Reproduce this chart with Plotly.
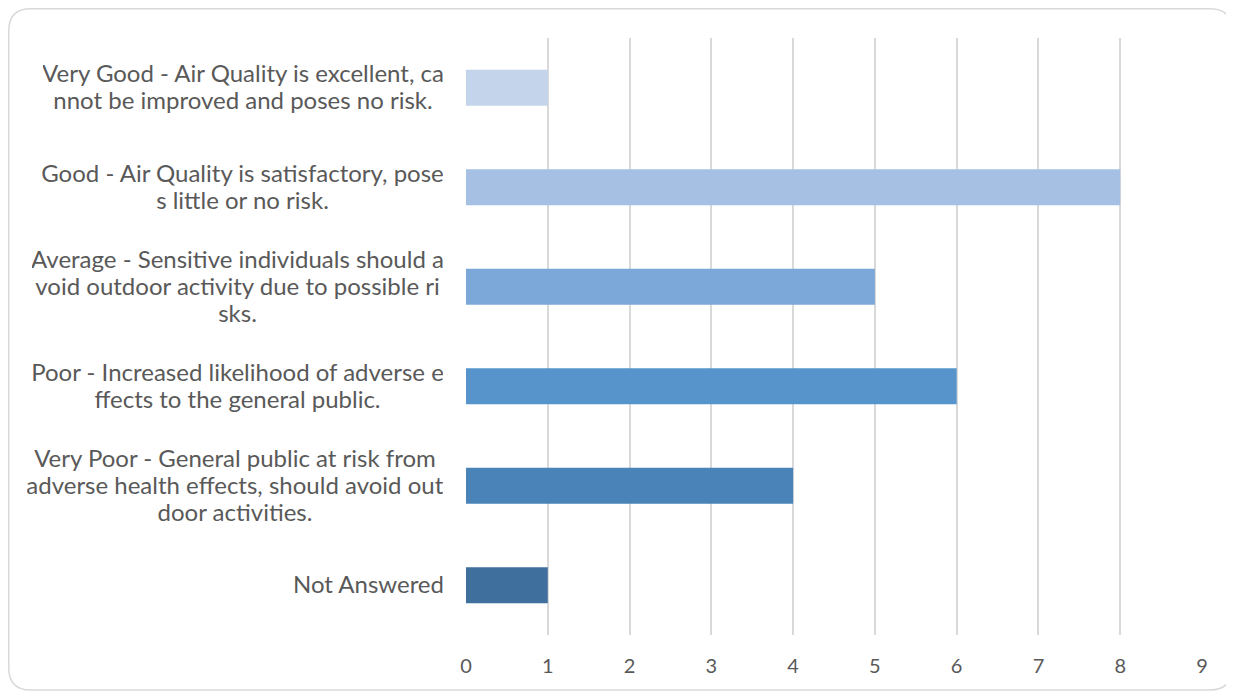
import plotly.graph_objects as go

categories = [
    "Very Good - Air Quality is excellent, ca<br>nnot be improved and poses no risk.",
    "Good - Air Quality is satisfactory, pose<br>s little or no risk.",
    "Average - Sensitive individuals should a<br>void outdoor activity due to possible ri<br>sks.",
    "Poor - Increased likelihood of adverse e<br>ffects to the general public.",
    "Very Poor - General public at risk from<br>adverse health effects, should avoid out<br>door activities.",
    "Not Answered",
]
values = [1, 8, 5, 6, 4, 1]
colors = ["#c3d4eb", "#a5c0e3", "#7ba8d8", "#5694cb", "#4a83b7", "#3f6f9c"]
tick_vals = list(range(0, 10))

fig = go.Figure()
fig.add_trace(go.Bar(
    x=values, y=categories, orientation="h",
    marker=dict(color=colors, line=dict(width=0)),
    width=0.36, hoverinfo="x",
))

# approximate rendered width (px) of the widest line of each label block
block_w = [400, 401, 411, 411, 416, 149]
FS = 24
LINE = 27
for c, w in zip(categories, block_w):
    lines = c.split("<br>")
    n = len(lines)
    for i, ln in enumerate(lines):
        k = i - (n - 1) / 2
        fig.add_annotation(
            x=0, xref="paper", y=c, yref="y", text=ln, showarrow=False,
            xanchor="right", xshift=-22, yshift=-k * LINE + 1.5, align="center",
            width=w, borderpad=0,
            font=dict(family="Lato", size=FS, color="#595959"),
        )

# rounded frame (pixel offsets from plot origin)
L, R, T, B, r = -457.25, 766, 626.25, -55, 22
path = (f"M {L+r},{T} L {R-r},{T} Q {R},{T} {R},{T-r} L {R},{B+r} Q {R},{B} {R-r},{B} "
        f"L {L+r},{B} Q {L},{B} {L},{B+r} L {L},{T-r} Q {L},{T} {L+r},{T} Z")
fig.add_shape(type="path", xref="paper", yref="paper", xsizemode="pixel", ysizemode="pixel",
              xanchor=0, yanchor=0, path=path, line=dict(color="#d9d9d9", width=1.5),
              layer="below")

fig.update_layout(
    width=1226, height=685,
    margin=dict(l=458, r=32, t=30, b=58),
    paper_bgcolor="white", plot_bgcolor="white",
    showlegend=False, bargap=0.64,
    font=dict(family="Lato", color="#595959"),
    xaxis=dict(range=[0, 9], tickvals=tick_vals, showgrid=True, gridcolor="#d9d9d9",
               gridwidth=2, zeroline=False, showline=False,
               tickfont=dict(family="Lato", size=20, color="#595959"), ticks="",
               ticklabelstandoff=17, fixedrange=True),
    yaxis=dict(categoryorder="array", categoryarray=categories, autorange="reversed",
               showticklabels=False, showgrid=False, zeroline=False, showline=False,
               ticks=""),
)

fig.write_html("out.html")
